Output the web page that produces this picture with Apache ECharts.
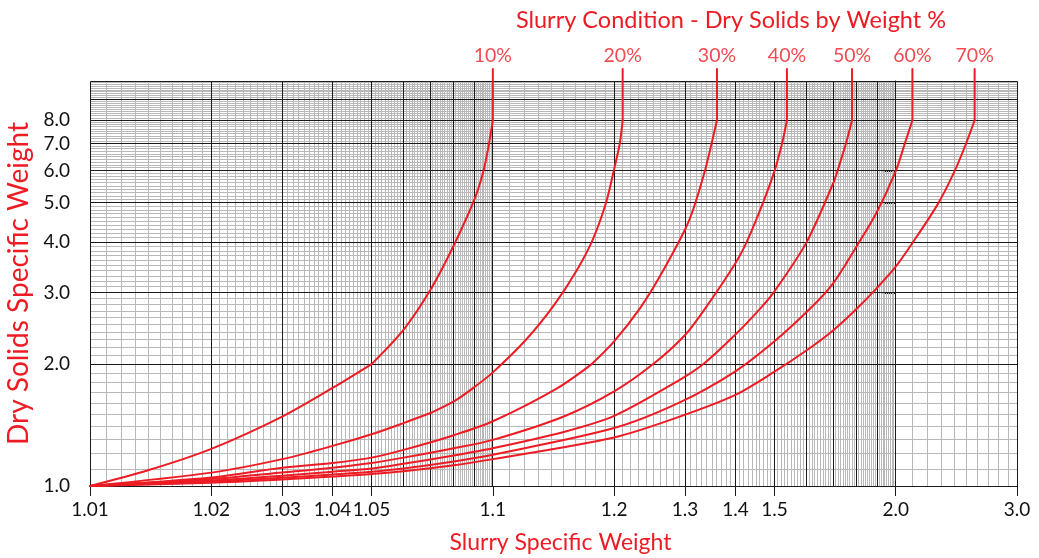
<!DOCTYPE html>
<html><head><meta charset="utf-8">
<script src="https://cdn.jsdelivr.net/npm/echarts@6/dist/echarts.min.js"></script>
<style>html,body{margin:0;padding:0;background:#fff}#c{width:1039px;height:558px}</style>
</head><body><div id="c"></div>
<script>
// ---- axis ticks / labels ----
const xTickValues = [1.01, 1.02, 1.03, 1.04, 1.05, 1.1, 1.2, 1.3, 1.4, 1.5, 2.0, 3.0];
const xTickLabels = ['1.01', '1.02', '1.03', '1.04', '1.05', '1.1', '1.2', '1.3', '1.4', '1.5', '2.0', '3.0'];
const yTickValues = [1, 2, 3, 4, 5, 6, 7, 8];
const yTickLabels = ['1.0', '2.0', '3.0', '4.0', '5.0', '6.0', '7.0', '8.0'];
const yTickMarks = [1, 2, 3, 4, 5, 6, 7, 8, 9, 10];
const X_RANGE = [1.01, 3.0];
const Y_RANGE = [1, 10];

// ---- series (x = slurry SG, y = dry solids SG) ----
const seriesNames = ['10%', '20%', '30%', '40%', '50%', '60%', '70%'];
const s10 = [[1.01,1.0],[1.014,1.095],[1.02,1.235],[1.03,1.484],[1.04,1.746],[1.05,2.0],[1.06,2.43],[1.07,3.05],[1.08,3.93],[1.09,5.1],[1.0946,5.95],[1.0973,6.8],[1.1,8.0],[1.1,10.7]];
const s20 = [[1.01,1.0],[1.02,1.079],[1.03,1.165],[1.04,1.256],[1.05,1.342],[1.06,1.43],[1.07,1.514],[1.08,1.617],[1.09,1.755],[1.1,1.908],[1.121,2.30],[1.142,2.8],[1.161,3.39],[1.177,4.06],[1.191,5.01],[1.2,6.06],[1.2065,7.0],[1.21,8.0],[1.21,10.7]];
const s30 = [[1.01,1.0],[1.02,1.05],[1.03,1.11],[1.04,1.14],[1.05,1.175],[1.06,1.228],[1.08,1.335],[1.1,1.445],[1.144,1.74],[1.176,2.0],[1.2,2.276],[1.232,2.75],[1.26,3.3],[1.3,4.3],[1.315,4.85],[1.336,6.0],[1.349,7.0],[1.36,8.0],[1.36,10.7]];
const s40 = [[1.01,1.0],[1.02,1.04],[1.03,1.08],[1.04,1.11],[1.05,1.14],[1.06,1.175],[1.08,1.24],[1.1,1.30],[1.15,1.485],[1.2,1.712],[1.25,2.0],[1.3,2.36],[1.337,2.75],[1.4,3.55],[1.426,3.99],[1.4685,5.01],[1.5,5.99],[1.522,7.0],[1.537,8.0],[1.537,10.7]];
const s50 = [[1.01,1.0],[1.02,1.031],[1.03,1.06],[1.04,1.085],[1.05,1.105],[1.06,1.135],[1.08,1.19],[1.1,1.24],[1.15,1.36],[1.2,1.49],[1.291,1.829],[1.333,2.0],[1.4,2.366],[1.462,2.75],[1.5,3.025],[1.6,3.99],[1.7,5.6],[1.717,6.0],[1.752,7.0],[1.779,8.0],[1.779,10.7]];
const s60 = [[1.01,1.0],[1.02,1.025],[1.03,1.048],[1.04,1.068],[1.05,1.085],[1.06,1.105],[1.08,1.15],[1.1,1.195],[1.2,1.39],[1.291,1.608],[1.4,1.919],[1.5,2.276],[1.615,2.75],[1.7,3.17],[1.8,3.91],[1.896,4.73],[2.0,5.99],[2.053,7.0],[2.1,8.0],[2.1,10.7]];
const s70 = [[1.01,1.0],[1.02,1.019],[1.03,1.038],[1.04,1.055],[1.05,1.07],[1.06,1.088],[1.08,1.125],[1.1,1.165],[1.2,1.318],[1.291,1.484],[1.4,1.679],[1.5,1.915],[1.6,2.16],[1.7,2.425],[1.8,2.74],[1.9,3.09],[2.0,3.48],[2.1,3.98],[2.274,4.98],[2.4,5.99],[2.49,6.95],[2.57,8.0],[2.57,10.7]];
const allSeries = [s10, s20, s30, s40, s50, s60, s70];
// y values where each curve has a sharp corner
const cornerY = [[2.0, 8.0], [1.514, 8.0], [2.0, 8.0], [8.0], [8.0], [8.0], [8.0]];

// ---- graph-paper grid values ----
const gridMajorX = [1.01,1.02,1.03,1.04,1.05,1.06,1.07,1.08,1.09,1.1,1.2,1.3,1.4,1.5,1.6,1.7,1.8,1.9,2.0,3.0];
const gridMinorX = [];
for (let k = 1011; k < 1100; k++) if (k % 10) gridMinorX.push(k / 1000);
for (let k = 111; k < 200; k++) if (k % 10) gridMinorX.push(k / 100);
for (let k = 21; k < 30; k++) gridMinorX.push(k / 10);
const gridMajorY = [1,2,3,4,5,6,7,8,9,10];
const gridMinorY = [];
for (let k = 11; k < 100; k++) if (k % 10) gridMinorY.push(k / 10);

// ---- transforms (log of x-1, log of y) ----
const tx = v => Math.log10(v - 1);
const ty = v => Math.log10(v);
const XMIN = tx(X_RANGE[0]), XMAX = tx(X_RANGE[1]);
const YMIN = ty(Y_RANGE[0]), YMAX = ty(Y_RANGE[1]);

const RED = '#ed1c24';
const FONT = 'Lato, "Open Sans", sans-serif';

function vLines(vals, color, z) {
  return {
    type: 'custom', silent: true, z: z, clip: false, animation: false,
    data: vals.map(v => [tx(v), YMIN]),
    encode: { x: 0, y: 1 },
    renderItem: (params, api) => {
      const p0 = api.coord([api.value(0), YMIN]);
      const p1 = api.coord([api.value(0), YMAX]);
      const x = Math.floor(p0[0]) + 0.5;
      return { type: 'line', shape: { x1: x, y1: Math.round(p0[1]) + 0.5, x2: x, y2: Math.round(p1[1]) + 0.5 },
               style: { stroke: color, lineWidth: 1 } };
    }
  };
}
function hLines(vals, color, z) {
  return {
    type: 'custom', silent: true, z: z, clip: false, animation: false,
    data: vals.map(v => [XMIN, ty(v)]),
    encode: { x: 0, y: 1 },
    renderItem: (params, api) => {
      const p0 = api.coord([XMIN, api.value(1)]);
      const p1 = api.coord([XMAX, api.value(1)]);
      const y = Math.floor(p0[1]) + 0.5;
      return { type: 'line', shape: { x1: Math.round(p0[0]) + 0.5, y1: y, x2: Math.round(p1[0]) + 0.5, y2: y },
               style: { stroke: color, lineWidth: 1 } };
    }
  };
}

// split a curve into smooth pieces at its corner points
function pieces(s, corners) {
  const out = [];
  let cur = [];
  s.forEach((p, i) => {
    cur.push(p);
    if (i > 0 && i < s.length - 1 && corners.indexOf(p[1]) >= 0) { out.push(cur); cur = [p]; }
  });
  if (cur.length > 1) out.push(cur);
  return out;
}

const curveSeries = [];
allSeries.forEach((s, i) => {
  pieces(s, cornerY[i]).forEach(seg => {
    curveSeries.push({
      name: seriesNames[i], type: 'line', z: 10, clip: false, animation: false,
      symbol: 'none', smooth: seg.length > 2 ? 0.3 : false,
      lineStyle: { color: RED, width: 2, cap: 'round', join: 'round' },
      data: seg.map(p => [tx(p[0]), ty(p[1])])
    });
  });
});

const labelSeries = {
  type: 'scatter', z: 11, clip: false, silent: true, animation: false,
  symbolSize: 0,
  data: allSeries.map(s => [tx(s[s.length - 1][0]), ty(s[s.length - 1][1])]),
  label: {
    show: true, position: 'top', distance: 3,
    formatter: p => seriesNames[p.dataIndex],
    color: RED, fontFamily: FONT, fontSize: 19.5
  }
};

const chart = echarts.init(document.getElementById('c'), null, { renderer: 'canvas' });
chart.setOption({
  animation: false,
  backgroundColor: '#ffffff',
  grid: { left: 90, right: 22, top: 81, bottom: 72, containLabel: false, outerBoundsMode: 'none' },
  graphic: [{
    type: 'text', x: 731, y: 20,
    style: { text: 'Slurry Condition - Dry Solids by Weight %', fill: RED, font: '23.5px ' + FONT, align: 'center', verticalAlign: 'middle' }
  }],
  xAxis: {
    type: 'value', min: XMIN, max: XMAX,
    name: 'Slurry Specific Weight', nameLocation: 'middle', nameGap: 45,
    nameTextStyle: { color: RED, fontFamily: FONT, fontSize: 23, padding: [0, 0, 0, 14] },
    axisLine: { show: true, lineStyle: { color: '#1a1a1a', width: 1 } },
    axisTick: { show: true, length: 10, customValues: xTickValues.map(tx), lineStyle: { color: '#1a1a1a' } },
    axisLabel: {
      customValues: xTickValues.map(tx), margin: 14, color: '#111', fontFamily: FONT, fontSize: 19,
      formatter: v => { const i = xTickValues.findIndex(t => Math.abs(tx(t) - v) < 1e-6); return i >= 0 ? xTickLabels[i] : ''; }
    },
    splitLine: { show: false }
  },
  yAxis: {
    type: 'value', min: YMIN, max: YMAX,
    name: 'Dry Solids Specific Weight', nameLocation: 'middle', nameGap: 53,
    nameTextStyle: { color: RED, fontFamily: FONT, fontSize: 28 },
    axisLine: { show: true, lineStyle: { color: '#1a1a1a', width: 1 } },
    axisTick: { show: true, length: 13, customValues: yTickMarks.map(ty), lineStyle: { color: '#1a1a1a' } },
    axisLabel: {
      customValues: yTickValues.map(ty), margin: 20, color: '#111', fontFamily: FONT, fontSize: 19,
      formatter: v => { const i = yTickValues.findIndex(t => Math.abs(ty(t) - v) < 1e-6); return i >= 0 ? yTickLabels[i] : ''; }
    },
    splitLine: { show: false }
  },
  series: [
    vLines(gridMinorX, '#b8b8b8', 1),
    hLines(gridMinorY, '#b8b8b8', 1),
    vLines(gridMajorX, '#1a1a1a', 2),
    hLines(gridMajorY, '#1a1a1a', 2),
    ...curveSeries,
    labelSeries
  ]
});
</script></body></html>
